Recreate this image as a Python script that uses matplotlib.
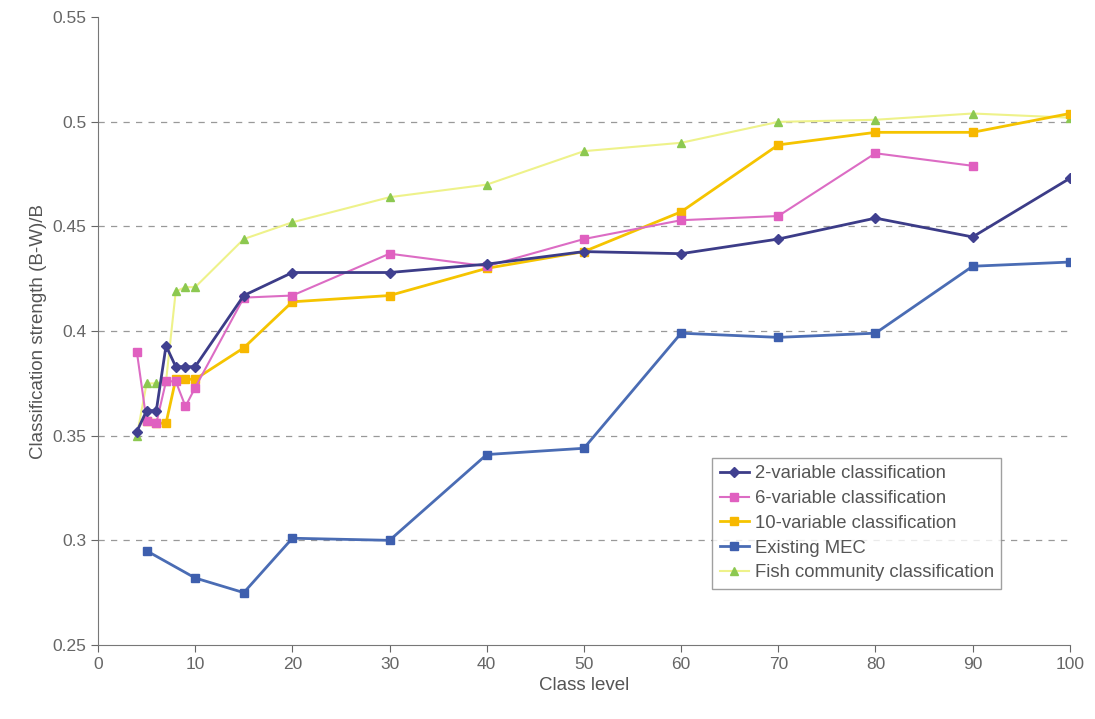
import matplotlib
matplotlib.use("Agg")
import matplotlib.pyplot as plt

plt.rcParams['font.family'] = ['Liberation Sans', 'DejaVu Sans']

x_two = [4, 5, 6, 7, 8, 9, 10, 15, 20, 30, 40, 50, 60, 70, 80, 90, 100]
y_two = [0.352, 0.362, 0.362, 0.393, 0.383, 0.383, 0.383, 0.417, 0.428, 0.428, 0.432, 0.438, 0.437, 0.444, 0.454, 0.445, 0.473]

x_six = [4, 5, 6, 7, 8, 9, 10, 15, 20, 30, 40, 50, 60, 70, 80, 90]
y_six = [0.390, 0.357, 0.356, 0.376, 0.376, 0.364, 0.373, 0.416, 0.417, 0.437, 0.431, 0.444, 0.453, 0.455, 0.485, 0.479]

x_ten = [5, 6, 7, 8, 9, 10, 15, 20, 30, 40, 50, 60, 70, 80, 90, 100]
y_ten = [0.357, 0.356, 0.356, 0.377, 0.377, 0.377, 0.392, 0.414, 0.417, 0.430, 0.438, 0.457, 0.489, 0.495, 0.495, 0.504]

x_mec = [5, 10, 15, 20, 30, 40, 50, 60, 70, 80, 90, 100]
y_mec = [0.295, 0.282, 0.275, 0.301, 0.300, 0.341, 0.344, 0.399, 0.397, 0.399, 0.431, 0.433]

x_fish = [4, 5, 6, 7, 8, 9, 10, 15, 20, 30, 40, 50, 60, 70, 80, 90, 100]
y_fish = [0.350, 0.375, 0.375, 0.376, 0.419, 0.421, 0.421, 0.444, 0.452, 0.464, 0.470, 0.486, 0.490, 0.500, 0.501, 0.504, 0.502]

labels = ["2-variable classification", "6-variable classification",
          "10-variable classification", "Existing MEC", "Fish community classification"]

fig = plt.figure(figsize=(10.95, 7.19), dpi=100)
ax = fig.add_axes([0.0895, 0.103, 0.8875, 0.873])

ax.plot(x_fish, y_fish, color='#eef28a', lw=1.5, marker='^', ms=5.5,
        mfc='#8cc850', mec='#8cc850', label=labels[4], zorder=2)
ax.plot(x_mec, y_mec, color='#4a6cb4', lw=2, marker='s', ms=6,
        mfc='#3e5fae', mec='#3e5fae', label=labels[3], zorder=3)
ax.plot(x_ten, y_ten, color='#f5c400', lw=2, marker='s', ms=6,
        mfc='#f7b800', mec='#f7b800', label=labels[2], zorder=4)
ax.plot(x_six, y_six, color='#dc6cc4', lw=1.5, marker='s', ms=6,
        mfc='#e060c0', mec='#e060c0', label=labels[1], zorder=5)
ax.plot(x_two, y_two, color='#3c3c88', lw=2, marker='D', ms=5,
        mfc='#404090', mec='#404090', label=labels[0], zorder=6)

ax.set_xlim(0, 100)
ax.set_ylim(0.25, 0.55)
ax.set_xticks(range(0, 101, 10))
ax.set_yticks([0.25, 0.3, 0.35, 0.4, 0.45, 0.5, 0.55])
ax.set_yticklabels(['0.25', '0.3', '0.35', '0.4', '0.45', '0.5', '0.55'])
for yv in [0.3, 0.35, 0.4, 0.45, 0.5]:
    ax.axhline(yv, color='#999999', lw=0.9, ls=(0, (5, 5)), zorder=0)

for s in ['top', 'right']:
    ax.spines[s].set_visible(False)
for s in ['left', 'bottom']:
    ax.spines[s].set_color('#777777')
ax.tick_params(colors='#666666', labelsize=12.5, direction='out', length=5)
ax.set_xlabel('Class level', fontsize=13.5, color='#555555')
ax.set_ylabel('Classification strength (B-W)/B', fontsize=13.5, color='#555555')

handles, labs = ax.get_legend_handles_labels()
order = [4, 3, 2, 1, 0]
leg = fig.legend([handles[i] for i in order], [labs[i] for i in order],
                 loc='upper left', bbox_to_anchor=(0.642, 0.376),
                 bbox_transform=fig.transFigure, fontsize=13.3,
                 frameon=True, fancybox=False, edgecolor='#888888',
                 handlelength=1.6, handletextpad=0.3, labelspacing=0.42,
                 borderpad=0.4, labelcolor='#555555')
leg.get_frame().set_linewidth(1)

fig.savefig('out.png', dpi=100, facecolor='white')
